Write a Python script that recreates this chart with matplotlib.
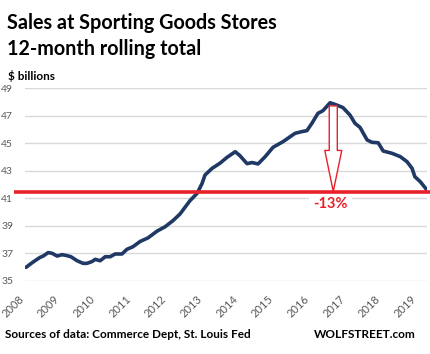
import matplotlib
matplotlib.use("Agg")
import matplotlib.pyplot as plt
import matplotlib.transforms as mtrans

# ---- data ----
dates = [2008.00, 2008.11, 2008.25, 2008.39, 2008.48, 2008.62, 2008.73, 2008.87,
         2009.01, 2009.15, 2009.26, 2009.43, 2009.60, 2009.71, 2009.85, 2009.94,
         2010.08, 2010.22, 2010.36, 2010.50, 2010.69, 2010.83, 2011.00, 2011.20,
         2011.42, 2011.68, 2011.90, 2012.12, 2012.32, 2012.60, 2012.80, 2012.94,
         2013.02, 2013.22, 2013.44, 2013.64, 2013.87, 2014.00, 2014.20, 2014.34,
         2014.51, 2014.71, 2014.93, 2015.21, 2015.55, 2015.74, 2015.88, 2016.02,
         2016.19, 2016.33, 2016.53, 2016.70, 2016.89, 2017.09, 2017.23, 2017.37,
         2017.57, 2017.71, 2017.88, 2018.02, 2018.27, 2018.50, 2018.69, 2018.83,
         2018.91, 2019.06, 2019.25]
sales = [35.98, 36.20, 36.46, 36.70, 36.80, 37.05, 37.00, 36.80,
         36.90, 36.83, 36.75, 36.46, 36.27, 36.27, 36.40, 36.56,
         36.46, 36.75, 36.75, 36.95, 36.95, 37.29, 37.48, 37.86,
         38.12, 38.62, 38.93, 39.37, 39.86, 40.83, 41.36, 42.09,
         42.69, 43.18, 43.55, 43.98, 44.39, 44.10, 43.52, 43.60,
         43.50, 44.03, 44.71, 45.12, 45.73, 45.85, 45.92, 46.45,
         47.18, 47.37, 47.95, 47.80, 47.60, 47.05, 46.45, 46.16,
         45.24, 45.07, 45.04, 44.44, 44.27, 44.03, 43.66, 43.18,
         42.57, 42.21, 41.60]
latest_level = 41.45
peak_date = 2016.62
peak_value = 47.72
change_label = "-13%"
year_ticks = list(range(2008, 2020))
y_ticks = [35, 37, 39, 41, 43, 45, 47, 49]

FONT = ["Lato", "DejaVu Sans"]
plt.rcParams["font.family"] = FONT

W, H = 430, 354
fig = plt.figure(figsize=(W / 100, H / 100), dpi=100)
ax = fig.add_axes([25 / W, 1 - 280.8 / H, (427 - 25) / W, (280.8 - 88.3) / H])

NAVY = "#203864"
RED = "#e8202a"
GRID = "#d9d9d9"
GRAY = "#595959"

ax.plot(dates, sales, color=NAVY, lw=2.6, solid_capstyle="round",
        solid_joinstyle="round", zorder=4)

ax.set_xlim(2007.97, 2019.25)
ax.set_ylim(35, 49)
ax.set_yticks(y_ticks)
ax.set_xticks(year_ticks)
ax.set_xticklabels([str(y) for y in year_ticks], rotation=45, ha="right",
                   va="top", fontsize=8, color=GRAY)
ax.set_yticklabels([str(v) for v in y_ticks], fontsize=7.5, color=GRAY)
ax.tick_params(axis="both", length=0)
ax.tick_params(axis="x", pad=9)
ax.tick_params(axis="y", pad=8.5)
ax.grid(axis="y", color=GRID, lw=1)
ax.set_axisbelow(True)
for s in ax.spines.values():
    s.set_visible(False)

# red reference line, extends slightly beyond the plot area
trans = mtrans.blended_transform_factory(ax.transAxes, ax.transData)
ax.plot([-0.027, 1.01], [latest_level, latest_level], color=RED, lw=2.6,
        transform=trans, clip_on=False, zorder=5, solid_capstyle="butt")

# hollow down arrow
ax.annotate("", xy=(peak_date, latest_level + 0.05), xytext=(peak_date, peak_value),
            arrowprops=dict(arrowstyle="simple,head_length=2.95,head_width=1.22,tail_width=0.58",
                            fc="white", ec=RED, lw=1, shrinkA=0, shrinkB=0,
                            mutation_scale=10),
            zorder=6)

ax.text(peak_date - 0.08, 40.55, change_label, color=RED, fontsize=10.5,
        fontweight="bold", ha="center", va="center", zorder=3,
        bbox=dict(fc="white", ec="none", pad=3))

fig.text(7 / W, 1 - 29 / H, "Sales at Sporting Goods Stores", fontsize=14.2,
         fontweight="bold", va="baseline", ha="left")
fig.text(7 / W, 1 - 55 / H, "12-month rolling total", fontsize=14.2,
         fontweight="bold", va="baseline", ha="left")
fig.text(8 / W, 1 - 80 / H, "$ billions", fontsize=8.5, fontweight="bold",
         va="baseline", ha="left")
fig.text(5 / W, 1 - 338 / H, "Sources of data: Commerce Dept, St. Louis Fed",
         fontsize=8.5, fontweight="bold", va="baseline", ha="left")
fig.text(416 / W, 1 - 338 / H, "WOLFSTREET.com", fontsize=8.5,
         fontweight="bold", va="baseline", ha="right")

fig.savefig("out.png", dpi=100)
